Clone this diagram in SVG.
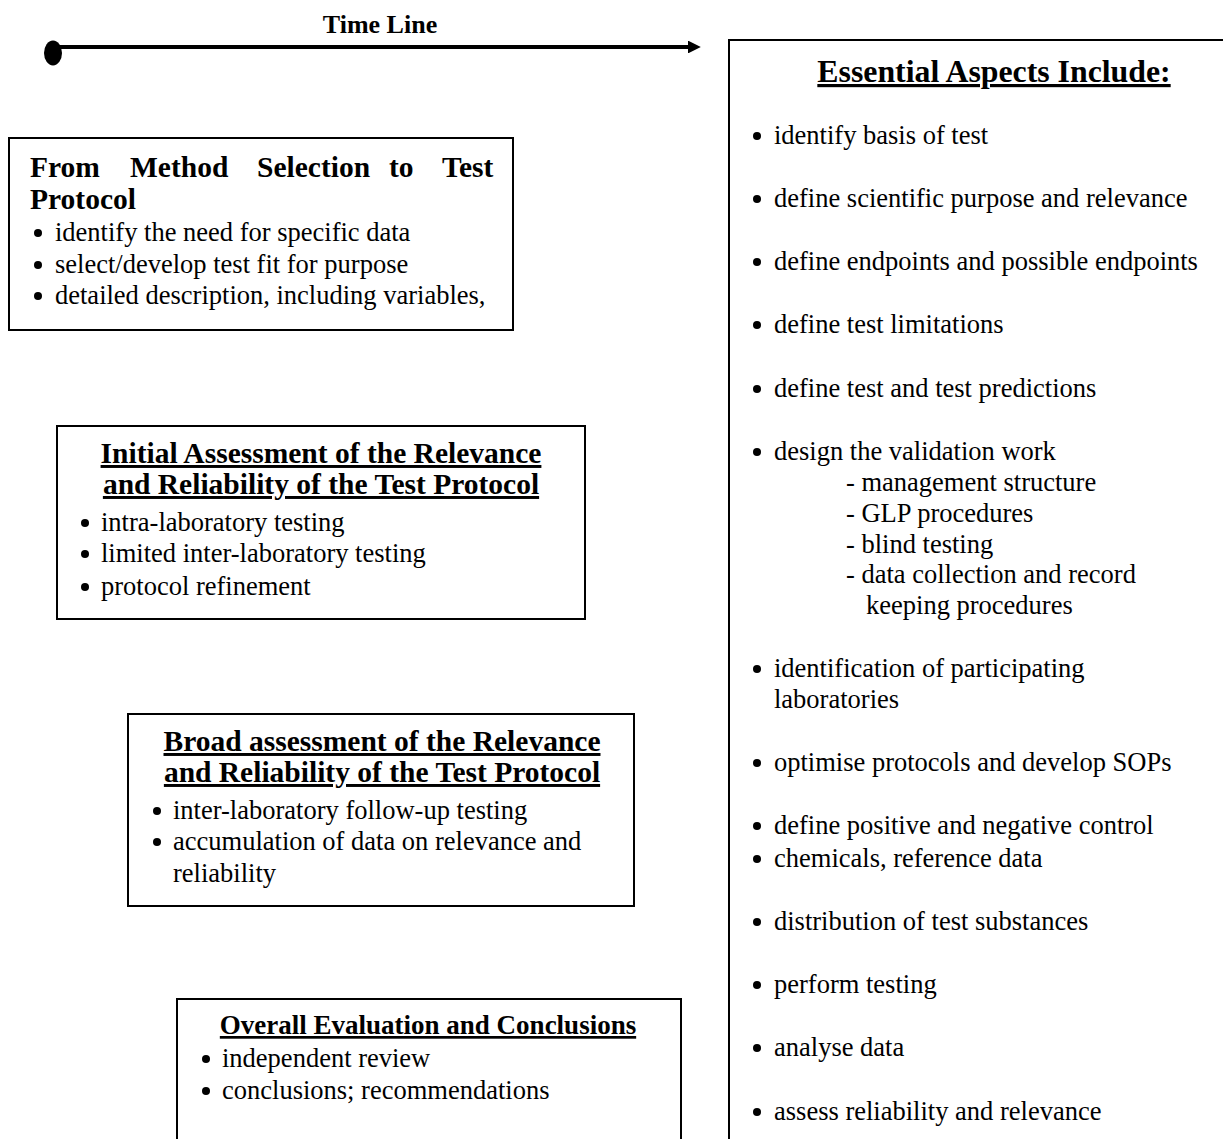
<svg xmlns="http://www.w3.org/2000/svg" width="1223" height="1139" viewBox="0 0 1223 1139">
<style>
.box{fill:none;stroke:#000;stroke-width:2}
.t{font-family:"Liberation Serif","Times New Roman",serif;fill:#000}
.hu{font-weight:bold;font-size:29.5px;text-decoration:underline}
.b{font-size:26.5px}
</style>
<defs>
<circle id="dot" r="4" fill="#000"/>
<marker id="arr" viewBox="0 0 10 10" refX="0" refY="5" markerWidth="4.5" markerHeight="3.2" orient="auto" markerUnits="strokeWidth">
<path d="M0,0 L10,5 L0,10 z" fill="#000"/>
</marker>
</defs>
<rect width="1223" height="1139" fill="#fff"/>

<g id="connectors">
<line x1="52" y1="47" x2="688" y2="47" stroke="#000" stroke-width="4" marker-end="url(#arr)"/>
<ellipse cx="53" cy="53" rx="9" ry="12.5" fill="#000"/>
</g>
<g id="timeline-label">
<text class="t" x="380" y="33" text-anchor="middle" font-weight="bold" font-size="26">Time Line</text>
</g>

<g id="node-method">
<rect class="box" x="9" y="138" width="504" height="192"/>
<text class="t" font-weight="bold" font-size="29.5" y="177"><tspan x="30">From</tspan><tspan x="130">Method</tspan><tspan x="257">Selection</tspan><tspan x="389">to</tspan><tspan x="442">Test</tspan></text>
<text class="t" font-weight="bold" font-size="29.5" x="30" y="209">Protocol</text>
<use href="#dot" x="38" y="233"/>
<text class="t b" x="55" y="241">identify the need for specific data</text>
<use href="#dot" x="38" y="265"/>
<text class="t b" x="55" y="273">select/develop test fit for purpose</text>
<use href="#dot" x="38" y="296"/>
<text class="t b" x="55" y="304">detailed description, including variables,</text>
</g>

<g id="node-initial">
<rect class="box" x="57" y="426" width="528" height="193"/>
<text class="t hu" x="321" y="463" text-anchor="middle">Initial Assessment of the Relevance</text>
<text class="t hu" x="321" y="494" text-anchor="middle">and Reliability of the Test Protocol</text>
<use href="#dot" x="85" y="523"/>
<text class="t b" x="101" y="531">intra-laboratory testing</text>
<use href="#dot" x="85" y="554"/>
<text class="t b" x="101" y="562">limited inter-laboratory testing</text>
<use href="#dot" x="85" y="587"/>
<text class="t b" x="101" y="595">protocol refinement</text>
</g>

<g id="node-broad">
<rect class="box" x="128" y="714" width="506" height="192"/>
<text class="t hu" x="382" y="751" text-anchor="middle">Broad assessment of the Relevance</text>
<text class="t hu" x="382" y="782" text-anchor="middle">and Reliability of the Test Protocol</text>
<use href="#dot" x="157" y="811"/>
<text class="t b" x="173" y="819">inter-laboratory follow-up testing</text>
<use href="#dot" x="157" y="842"/>
<text class="t b" x="173" y="850">accumulation of data on relevance and</text>
<text class="t b" x="173" y="882">reliability</text>
</g>

<g id="node-overall">
<path class="box" d="M177,1139 V999 H681 V1139"/>
<text class="t hu" x="428" y="1034" text-anchor="middle" style="font-size:27px">Overall Evaluation and Conclusions</text>
<use href="#dot" x="206" y="1059"/>
<text class="t b" x="222" y="1067">independent review</text>
<use href="#dot" x="206" y="1091"/>
<text class="t b" x="222" y="1099">conclusions; recommendations</text>
</g>

<g id="node-essential">
<path class="box" d="M729,1139 V40 H1223"/>
<text class="t hu" x="994" y="82" text-anchor="middle" style="font-size:31.8px">Essential Aspects Include:</text>
<use href="#dot" x="757" y="136"/>
<text class="t b" x="774" y="144">identify basis of test</text>
<use href="#dot" x="757" y="199"/>
<text class="t b" x="774" y="207">define scientific purpose and relevance</text>
<use href="#dot" x="757" y="262"/>
<text class="t b" x="774" y="270">define endpoints and possible endpoints</text>
<use href="#dot" x="757" y="325"/>
<text class="t b" x="774" y="333">define test limitations</text>
<use href="#dot" x="757" y="389"/>
<text class="t b" x="774" y="397">define test and test predictions</text>
<use href="#dot" x="757" y="452"/>
<text class="t b" x="774" y="460">design the validation work</text>
<text class="t b" x="846" y="491">- management structure</text>
<text class="t b" x="846" y="522">- GLP procedures</text>
<text class="t b" x="846" y="553">- blind testing</text>
<text class="t b" x="846" y="583">- data collection and record</text>
<text class="t b" x="866" y="614">keeping procedures</text>
<use href="#dot" x="757" y="669"/>
<text class="t b" x="774" y="677">identification of participating</text>
<text class="t b" x="774" y="708">laboratories</text>
<use href="#dot" x="757" y="763"/>
<text class="t b" x="774" y="771">optimise protocols and develop SOPs</text>
<use href="#dot" x="757" y="826"/>
<text class="t b" x="774" y="834">define positive and negative control</text>
<use href="#dot" x="757" y="859"/>
<text class="t b" x="774" y="867">chemicals, reference data</text>
<use href="#dot" x="757" y="922"/>
<text class="t b" x="774" y="930">distribution of test substances</text>
<use href="#dot" x="757" y="985"/>
<text class="t b" x="774" y="993">perform testing</text>
<use href="#dot" x="757" y="1048"/>
<text class="t b" x="774" y="1056">analyse data</text>
<use href="#dot" x="757" y="1112"/>
<text class="t b" x="774" y="1120">assess reliability and relevance</text>
</g>
</svg>
